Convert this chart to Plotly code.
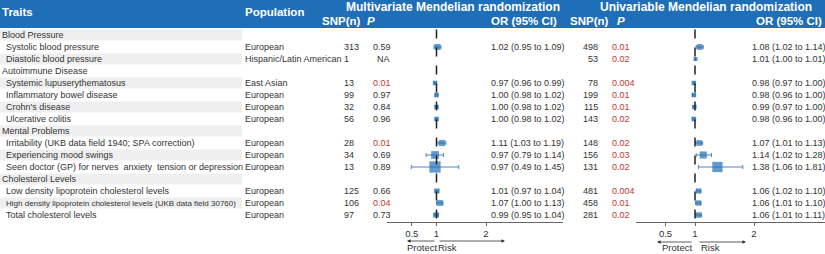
import plotly.graph_objects as go

W, H = 825, 254

# ---------------- data ----------------
rows = ["Blood Pressure", "Systolic blood pressure", "Diastolic blood pressure",
        "Autoimmune Disease", "Systemic lupuserythematosus", "Inflammatory bowel disease",
        "Crohn's disease", "Ulcerative colitis",
        "Mental Problems", "Irritability (UKB data field 1940; SPA correction)",
        "Experiencing mood swings",
        "Seen doctor (GP) for nerves\u00a0 anxiety\u00a0 tension or depression",
        "Cholesterol Levels", "Low density lipoprotein cholesterol levels",
        "High density lipoprotein cholesterol levels (UKB data field 30760)",
        "Total cholesterol levels"]
is_group = [True, False, False, True, False, False, False, False,
            True, False, False, False, True, False, False, False]

population = ["European", "Hispanic/Latin American", "East Asian", "European", "European",
              "European", "European", "European", "European", "European", "European", "European"]

mv_snp = ["313", "1", "13", "99", "32", "56", "28", "34", "13", "125", "106", "97"]
mv_p = ["0.59", "NA", "0.01", "0.97", "0.84", "0.96", "0.01", "0.69", "0.89", "0.66", "0.04", "0.73"]
mv_or = [1.02, None, 0.97, 1.00, 1.00, 1.00, 1.11, 0.97, 0.97, 1.01, 1.07, 0.99]
mv_lo = [0.95, None, 0.96, 0.98, 0.98, 0.98, 1.03, 0.79, 0.49, 0.97, 1.00, 0.95]
mv_hi = [1.09, None, 0.99, 1.02, 1.02, 1.02, 1.19, 1.14, 1.45, 1.04, 1.13, 1.04]

uv_snp = ["498", "53", "78", "199", "115", "143", "148", "156", "131", "481", "458", "281"]
uv_p = ["0.01", "0.02", "0.004", "0.01", "0.01", "0.02", "0.02", "0.03", "0.02", "0.004", "0.01", "0.02"]
uv_or = [1.08, 1.01, 0.98, 0.98, 0.99, 0.98, 1.07, 1.14, 1.38, 1.06, 1.06, 1.06]
uv_lo = [1.02, 1.00, 0.97, 0.96, 0.97, 0.96, 1.01, 1.02, 1.06, 1.02, 1.01, 1.01]
uv_hi = [1.14, 1.01, 1.00, 1.00, 1.00, 1.00, 1.13, 1.28, 1.81, 1.10, 1.10, 1.11]

tick_vals = [0.5, 1, 2]
tick_text = ["0.5", "1", "2"]

# ---------------- layout helpers ----------------
FONT = "Liberation Sans"
TXT = "#333333"
RED = "#c0392b"
BLUE = "#1f6fb5"
HEAD = "#1f6eb8"

ROW0, ROWH = 35, 12  # px center of first row, row height
data_rows = [i for i, g in enumerate(is_group) if not g]

def ypx(i):
    return ROW0 + ROWH * i

annotations = []
def ann(x, y, text, anchor="left", size=9, color=TXT, bold=False):
    annotations.append(dict(x=x / W, y=1 - y / H, xref="paper", yref="paper",
                            text=text, showarrow=False, xanchor=anchor, yanchor="middle",
                            font=dict(family=FONT, size=size, color=color,
                                      weight="bold" if bold else "normal"),
                            borderpad=0, borderwidth=0))

shapes = []
# header bar
shapes.append(dict(type="rect", xref="paper", yref="paper", x0=0, x1=1,
                   y0=1 - 28 / H, y1=1, fillcolor=HEAD, line=dict(width=0), layer="below"))
# row bands
for i in range(len(rows)):
    if i % 2 == 0:
        shapes.append(dict(type="rect", xref="paper", yref="y", x0=0, x1=242 / W,
                           y0=i - 0.46, y1=i + 0.46, fillcolor="#efefef",
                           line=dict(width=0), layer="below"))

# header texts
ann(2, 12, "Traits", size=11.5, color="white", bold=True)
ann(245, 12, "Population", size=11.5, color="white", bold=True)
ann(453, 7, "Multivariate Mendelian randomization", "center", 12, "white", True)
ann(361, 21, "SNP(n)", "right", 11.5, "white", True)
ann(367, 21, "<i>P</i>", "left", 11.5, "white", True)
ann(491, 21, "OR (95% CI)", "left", 11.5, "white", True)
ann(706, 7, "Univariable Mendelian randomization", "center", 12, "white", True)
ann(609, 21, "SNP(n)", "right", 11.5, "white", True)
ann(617, 21, "<i>P</i>", "left", 11.5, "white", True)
ann(822, 21, "OR (95% CI)", "right", 11.5, "white", True)

# row texts (long label shrunk to fit its column)
for i, (lab, g) in enumerate(zip(rows, is_group)):
    ann(2 if g else 6, ypx(i), lab, size=9 if len(lab) < 62 else 8)

def pcol(p):
    return RED if (p != "NA" and float(p) < 0.05) else TXT

for k, i in enumerate(data_rows):
    y = ypx(i)
    ann(245, y, population[k])
    ann(344, y, mv_snp[k])
    ann(377 if mv_p[k] == "NA" else 373, y, mv_p[k], color=pcol(mv_p[k]))
    if mv_or[k] is not None:
        ann(491, y, f"{mv_or[k]:.2f} ({mv_lo[k]:.2f} to {mv_hi[k]:.2f})")
    ann(598, y, uv_snp[k], anchor="right")
    ann(612, y, uv_p[k], color=pcol(uv_p[k]))
    ann(752, y, f"{uv_or[k]:.2f} ({uv_lo[k]:.2f} to {uv_hi[k]:.2f})")

# ---------------- forest traces ----------------
def msize(lo, hi):
    return 3.5 + 8 * (hi - lo) ** 0.6

fig = go.Figure()
for orv, lo, hi, xa in [(mv_or, mv_lo, mv_hi, "x"), (uv_or, uv_lo, uv_hi, "x2")]:
    xs, ys, em, ep, sz = [], [], [], [], []
    for k, i in enumerate(data_rows):
        if orv[k] is None:
            continue
        xs.append(orv[k]); ys.append(i)
        em.append(orv[k] - lo[k]); ep.append(hi[k] - orv[k])
        sz.append(msize(lo[k], hi[k]))
    fig.add_trace(go.Scatter(
        x=xs, y=ys, xaxis=xa, yaxis="y", mode="markers",
        marker=dict(symbol="square", size=sz, color=BLUE, line=dict(width=0)),
        error_x=dict(type="data", symmetric=False, array=ep, arrayminus=em,
                     color="#4a86c5", thickness=1, width=2),
        showlegend=False, hoverinfo="skip"))

# dashed reference lines at OR = 1
for xr in ["x", "x2"]:
    shapes.append(dict(type="line", xref=xr, yref="y", x0=1, x1=1,
                       y0=-0.45, y1=(221 - ROW0) / ROWH,
                       line=dict(color="#222222", width=1.5, dash="dash")))

# arrows + labels under axes
def arrow(head, tail, y):
    annotations.append(dict(x=head / W, y=1 - y / H, xref="paper", yref="paper",
                            ax=tail - head, ay=0, text="", showarrow=True,
                            arrowhead=2, arrowsize=0.9, arrowwidth=0.8,
                            arrowcolor="#333333", standoff=0, startstandoff=0))

arrow(407, 436, 241); arrow(505, 438, 241)
arrow(657, 693, 242); arrow(746, 698, 242)
ann(437, 247, "Protect", "right", 9.5)
ann(438, 247, "Risk", "left", 9.5)
ann(692, 247, "Protect", "right", 9.5)
ann(701, 247, "Risk", "left", 9.5)

axis_pos = 1 - 222 / H
axcommon = dict(anchor="free", position=axis_pos, showgrid=False, zeroline=False,
                showline=True, linecolor="#666666", linewidth=1,
                ticks="outside", ticklen=3, tickcolor="#666666",
                tickvals=tick_vals, ticktext=tick_text,
                tickfont=dict(family=FONT, size=9.5, color=TXT), fixedrange=True)

# panel 1: 1 -> 436.5 px, 49.5 px/unit, start 387
p1_start, p1_scale = 387, 49.5
p1_end = 563
# panel 2: 1 -> 695 px, 59 px/unit
p2_scale = 59
p2_start = 695 - p2_scale
fig.update_layout(
    width=W, height=H, margin=dict(l=0, r=0, t=0, b=0),
    paper_bgcolor="white", plot_bgcolor="rgba(0,0,0,0)",
    font=dict(family=FONT),
    xaxis=dict(domain=[p1_start / W, p1_end / W],
               range=[0, (p1_end - p1_start) / p1_scale], **axcommon),
    xaxis2=dict(domain=[p2_start / W, 1],
                range=[0, (W - p2_start) / p2_scale], **axcommon),
    yaxis=dict(domain=[0, 1], range=[(H - ROW0) / ROWH, -ROW0 / ROWH],
               visible=False, fixedrange=True),
    shapes=shapes, annotations=annotations,
)

fig.write_html("out.html", config={"displayModeBar": False},
               post_script="document.body.style.margin='0';document.body.style.overflow='hidden';")
